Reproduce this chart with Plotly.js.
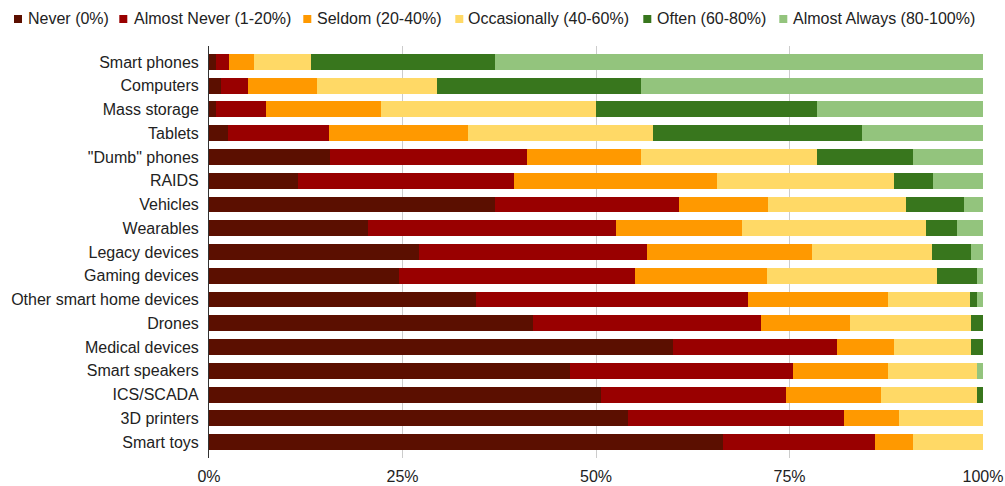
<!DOCTYPE html>
<html>
<head>
<meta charset="utf-8">
<script src="https://cdn.plot.ly/plotly-3.0.1.min.js"></script>
<style>html,body{margin:0;padding:0;background:#fff;}#chart{width:1005px;height:486px;}</style>
</head>
<body>
<div id="chart"></div>
<script>
const categories = ["Smart phones","Computers","Mass storage","Tablets","\"Dumb\" phones","RAIDS","Vehicles","Wearables","Legacy devices","Gaming devices","Other smart home devices","Drones","Medical devices","Smart speakers","ICS/SCADA","3D printers","Smart toys"];
const seriesNames = ["Never (0%)","Almost Never (1-20%)","Seldom (20-40%)","Occasionally (40-60%)","Often (60-80%)","Almost Always (80-100%)"];
const never = [0.9,1.6,0.9,2.5,15.6,11.5,36.9,20.5,27.1,24.6,34.5,41.8,59.9,46.7,50.7,54.1,66.4];
const almostNever = [1.7,3.4,6.4,13.0,25.5,27.9,23.8,32.1,29.5,30.4,35.2,29.5,21.2,28.7,23.9,27.9,19.6];
const seldom = [3.2,9.0,14.9,18.0,14.7,26.2,11.5,16.2,21.3,17.1,18.0,11.5,7.4,12.3,12.2,7.2,4.9];
const occasionally = [7.4,15.5,27.8,23.9,22.8,22.9,17.9,23.8,15.5,22.0,10.6,15.6,9.9,11.5,12.4,10.8,9.1];
const often = [23.8,26.3,28.6,27.0,12.4,5.0,7.4,4.1,5.0,5.1,0.9,1.6,1.6,0,0.8,0,0];
const almostAlways = [63.1,44.2,21.4,15.6,9.0,6.5,2.5,3.3,1.6,0.8,0.8,0,0,0.8,0,0,0];
const tickValues = [0,25,50,75,100];

const colors = ["#5b0f00","#990000","#ff9900","#ffd966","#38761d","#93c47d"];
const seriesValues = [never, almostNever, seldom, occasionally, often, almostAlways];

const FONT = '"Liberation Sans", Arial, sans-serif';
const W = 1005, H = 486;
const M = {l:209, r:22, t:46, b:28};
const PW = W - M.l - M.r, PH = H - M.t - M.b;
const px2x = p => (p - M.l) / PW;
const px2y = p => (H - M.b - p) / PH;

const traces = seriesValues.map((vals, i) => ({
  type: 'bar', orientation: 'h',
  name: seriesNames[i],
  y: categories, x: vals,
  marker: {color: colors[i], line: {width: 0}},
  showlegend: false,
  hoverinfo: 'name+x'
}));

// manual legend placement (pixel positions of marker / text start)
const legMarkerLeft = [14, 119.3, 303.3, 455.3, 643.3, 779.3];
const legTextLeft = [26.3, 131.7, 314.7, 466.3, 654.7, 791.3];
const shapes = [], annotations = [];
seriesNames.forEach((n, i) => {
  shapes.push({type:'rect', xref:'paper', yref:'paper',
    x0: px2x(legMarkerLeft[i]), x1: px2x(legMarkerLeft[i] + 8),
    y0: px2y(23), y1: px2y(15),
    fillcolor: colors[i], line:{width:0}});
  annotations.push({xref:'paper', yref:'paper', x: px2x(legTextLeft[i]), y: px2y(19),
    xanchor:'left', yanchor:'middle', showarrow:false, text:n,
    font:{family:FONT, size:16, color:'#222'}});
});

const n = categories.length;
const layout = {
  width: W, height: H,
  margin: {l:M.l, r:M.r, t:M.t, b:M.b, pad:0, autoexpand:false},
  barmode: 'stack', bargap: 0.33,
  paper_bgcolor:'#fff', plot_bgcolor:'#fff',
  font: {family: FONT, size: 16, color: '#222'},
  showlegend: false,
  xaxis: {range:[0,100], tickvals: tickValues, ticktext: tickValues.map(v => v + '%'),
    showgrid:true, gridcolor:'#cccccc', gridwidth:1, zeroline:false,
    showline:false, ticks:'', ticklabelstandoff:7, tickfont:{family:FONT, size:16, color:'#222'}, fixedrange:true},
  yaxis: {type:'category', range:[n - 1 + 0.67, -0.67], showgrid:false, zeroline:false,
    showline:true, linecolor:'#333', linewidth:1, ticks:'', ticklabelstandoff:6,
    tickfont:{family:FONT, size:16, color:'#222'}, fixedrange:true},
  shapes: shapes,
  annotations: annotations
};
Plotly.newPlot('chart', traces, layout, {displayModeBar:false, staticPlot:true});
</script>
</body>
</html>
